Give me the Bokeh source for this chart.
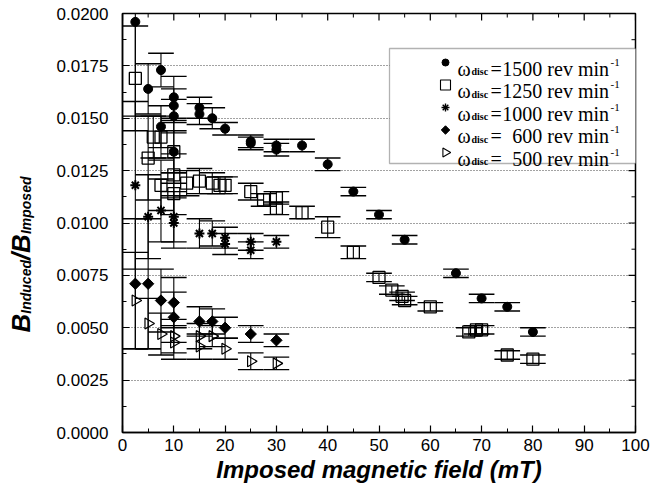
import numpy as np
from bokeh.plotting import figure
from bokeh.layouts import row
from bokeh.models import (SingleIntervalTicker, NumeralTickFormatter,
                          Label, BoxAnnotation, ColumnDataSource, Title)
from bokeh.embed import file_html
from bokeh.resources import INLINE

# ---------------- data ----------------
x_1500 = [2.5, 5, 7.5, 7.5, 10, 10, 10, 10, 15, 15, 17.5, 20, 25, 25, 30, 30, 35, 40, 45, 50, 55, 65, 70, 75, 80]
y_1500 = [0.0196, 0.0164, 0.0173, 0.0146, 0.0160, 0.0156, 0.0151, 0.0134, 0.0155, 0.0152, 0.0150, 0.0145,
          0.0139, 0.0138, 0.0137, 0.0135, 0.0137, 0.0128, 0.0115, 0.0104, 0.0092, 0.0076, 0.0064, 0.0060, 0.0048]
e_1500 = [0.0045, 0.0012, 0.0008, 0.0010, 0.0010, 0.0008, 0.0008, 0.0015, 0.0005, 0.0005, 0.0005, 0.0003,
          0.0003, 0.0003, 0.0003, 0.0003, 0.0003, 0.0003, 0.0002, 0.0002, 0.0002, 0.0002, 0.0002, 0.0002, 0.0002]

x_1250 = [2.5, 5, 6, 7.5, 7.5, 10, 10, 10, 12.5, 15, 17.5, 19, 20, 25, 27.5, 30, 30, 35, 40, 45,
          50, 52.5, 54.5, 55, 60, 67.5, 69, 70, 75, 80]
y_1250 = [0.0169, 0.0131, 0.0141, 0.0141, 0.0118, 0.0134, 0.0123, 0.0114, 0.0119, 0.0120, 0.0119, 0.0118,
          0.0118, 0.0115, 0.0111, 0.0112, 0.0107, 0.0105, 0.0098, 0.0086,
          0.0074, 0.0068, 0.0065, 0.0063, 0.0060, 0.0048, 0.0049, 0.0049, 0.0037, 0.0035]
e_1250 = [0.0025, 0.0020, 0.0010, 0.0010, 0.0012, 0.0010, 0.0010, 0.0010, 0.0006, 0.0006, 0.0005, 0.0004,
          0.0004, 0.0004, 0.0003, 0.0003, 0.0003, 0.0003, 0.0005, 0.0003,
          0.0002, 0.0002, 0.0002, 0.0002, 0.0002, 0.0002, 0.0002, 0.0002, 0.0002, 0.0002]

x_1000 = [2.5, 5, 7.5, 10, 10, 15, 17.5, 20, 20, 25, 25, 30]
y_1000 = [0.0118, 0.0103, 0.0106, 0.0103, 0.0100, 0.0095, 0.0095, 0.0093, 0.0090, 0.0091, 0.0087, 0.0091]
e_1000 = [0.0040, 0.0020, 0.0015, 0.0012, 0.0012, 0.0007, 0.0006, 0.0005, 0.0005, 0.0004, 0.0004, 0.0003]

x_600 = [2.5, 5, 7.5, 10, 10, 15, 17.5, 20, 25, 30]
y_600 = [0.0071, 0.0071, 0.0063, 0.0062, 0.0055, 0.0053, 0.0053, 0.0050, 0.0047, 0.0044]
e_600 = [0.0031, 0.0031, 0.0015, 0.0012, 0.0012, 0.0007, 0.0006, 0.0005, 0.0004, 0.0003]

x_500 = [2.5, 5, 7.5, 10, 10, 15, 15, 17.5, 20, 25, 30]
y_500 = [0.0063, 0.0052, 0.0047, 0.0046, 0.0043, 0.0046, 0.0041, 0.0046, 0.0040, 0.0034, 0.0033]
e_500 = [0.0023, 0.0012, 0.0010, 0.0008, 0.0008, 0.0006, 0.0006, 0.0005, 0.0005, 0.0004, 0.0003]

speeds = ["1500", "1250", "1000", "600", "500"]
x_ticks_interval = 10
y_ticks_interval = 0.0025
x_title = "Imposed magnetic field (mT)"

# ---------------- layout helpers ----------------
W, H = 650, 489
YLAB_W = 44                      # width of the narrow strip holding the y title
FL, FR, FT, FB = 122, 635, 13, 432   # frame edges in page pixels
XMAX, YMAX = 100.0, 0.02


def dx(px):
    return (px - FL) / (FR - FL) * XMAX


def dy(py):
    return (FB - py) / (FB - FT) * YMAX


p = figure(width=W - YLAB_W, height=H, x_range=(0, XMAX), y_range=(0, YMAX),
           output_backend="svg", toolbar_location=None,
           min_border_left=FL - YLAB_W, min_border_right=W - FR,
           min_border_top=FT, min_border_bottom=H - FB)
p.outline_line_color = "black"
p.outline_line_width = 1.5
p.background_fill_color = "white"
p.border_fill_color = "white"

TICK_FONT = "Liberation Sans"

for ax in (p.xaxis[0], p.yaxis[0]):
    ax.axis_line_width = 1.5
    ax.major_tick_in = 7
    ax.major_tick_out = 0
    ax.minor_tick_in = 4
    ax.minor_tick_out = 0
    ax.major_tick_line_width = 1.2
    ax.major_label_text_font = TICK_FONT
    ax.major_label_text_font_size = "17px"
    ax.major_label_text_color = "black"

p.xaxis[0].ticker = SingleIntervalTicker(interval=x_ticks_interval, num_minor_ticks=2)
p.yaxis[0].ticker = SingleIntervalTicker(interval=y_ticks_interval, num_minor_ticks=2)
p.yaxis[0].formatter = NumeralTickFormatter(format="0.0000")
p.xaxis[0].major_label_standoff = 6
p.yaxis[0].major_label_standoff = 14

p.add_layout(Title(text=x_title, align="center", text_font="Liberation Sans",
                   text_font_style="bold italic", text_font_size="24px", text_color="black",
                   standoff=0, offset=0), "below")

p.xgrid.grid_line_color = None
p.ygrid.grid_line_color = "#444444"
p.ygrid.grid_line_dash = "1 2"
p.ygrid.grid_line_width = 1
p.ygrid.ticker = SingleIntervalTicker(interval=y_ticks_interval)

# mirrored inward ticks on top and right edges (half of each dash is clipped by the frame)
top_major = np.arange(0, XMAX + 0.1, x_ticks_interval)
top_minor = np.arange(x_ticks_interval / 2, XMAX, x_ticks_interval)
right_major = np.arange(0, YMAX + 1e-9, y_ticks_interval)
right_minor = np.arange(y_ticks_interval / 2, YMAX, y_ticks_interval)
p.scatter(x=top_major, y=[YMAX] * len(top_major), marker="dash", angle=np.pi / 2, size=14,
          line_color="black", line_width=1.2)
p.scatter(x=top_minor, y=[YMAX] * len(top_minor), marker="dash", angle=np.pi / 2, size=8,
          line_color="black", line_width=1.0)
p.scatter(x=[XMAX] * len(right_major), y=right_major, marker="dash", size=14,
          line_color="black", line_width=1.2)
p.scatter(x=[XMAX] * len(right_minor), y=right_minor, marker="dash", size=8,
          line_color="black", line_width=1.0)

CAP = 2.5  # half-width of error-bar caps in mT


def err_source(xs, ys, es):
    xs = np.asarray(xs, float)
    ys = np.asarray(ys, float)
    es = np.asarray(es, float)
    return ColumnDataSource(dict(x=xs, y=ys, lo=ys - es, hi=ys + es,
                                 cl=xs - CAP, cr=xs + CAP))


series = [
    (x_1500, y_1500, e_1500, dict(marker="circle", size=9, fill_color="black", line_color="black")),
    (x_1250, y_1250, e_1250, dict(marker="square", size=12, fill_color=None, line_color="black", line_width=1.3)),
    (x_1000, y_1000, e_1000, dict(marker="asterisk", size=10, line_color="black", line_width=2)),
    (x_600, y_600, e_600, dict(marker="square", size=8, angle=np.pi / 4, fill_color="black", line_color="black")),
    (x_500, y_500, e_500, dict(marker="triangle", size=11, angle=-np.pi / 2, fill_color=None,
                               line_color="black", line_width=1.2)),
]

for xs, ys, es, style in series:
    src = err_source(xs, ys, es)
    p.segment(x0="x", y0="lo", x1="x", y1="hi", source=src, line_color="black", line_width=1.1)
    p.segment(x0="cl", y0="hi", x1="cr", y1="hi", source=src, line_color="black", line_width=1.4)
    p.segment(x0="cl", y0="lo", x1="cr", y1="lo", source=src, line_color="black", line_width=1.4)

for xs, ys, es, style in series:
    p.scatter(x=xs, y=ys, **style)

# ---------------- legend (drawn by hand for sub/superscripts) ----------------
legend_box = BoxAnnotation(left=dx(389), right=dx(638), top=dy(48), bottom=dy(163),
                           fill_color="white", fill_alpha=1.0, line_color="black", line_width=1.3)
p.add_layout(legend_box)

legend_marker_styles = [
    dict(marker="circle", size=7, fill_color="black", line_color="black"),
    dict(marker="square", size=10, fill_color=None, line_color="black", line_width=1.1),
    dict(marker="asterisk", size=8, line_color="black", line_width=1.4),
    dict(marker="square", size=6, angle=np.pi / 4, fill_color="black", line_color="black"),
    dict(marker="triangle", size=9, angle=-np.pi / 2, fill_color=None, line_color="black", line_width=1.1),
]

SERIF = "Liberation Serif"
for i, (spd, mst) in enumerate(zip(speeds, legend_marker_styles)):
    base = 68 + 22.5 * i
    center = base - 6
    p.scatter(x=[dx(445)], y=[dy(center)], level="overlay", **mst)
    p.add_layout(Label(x=dx(457), y=dy(base), text="ω", text_font=SERIF, text_font_size="20px",
                       text_align="left", text_baseline="alphabetic", text_color="black"))
    p.add_layout(Label(x=dx(471), y=dy(base + 3), text="disc", text_font=SERIF, text_font_size="10px",
                       text_font_style="bold", text_align="left", text_baseline="alphabetic",
                       text_color="black"))
    p.add_layout(Label(x=dx(490), y=dy(base), text="=", text_font=SERIF, text_font_size="20px",
                       text_align="left", text_baseline="alphabetic", text_color="black"))
    p.add_layout(Label(x=dx(608.5), y=dy(base), text=f"{spd} rev min", text_font=SERIF,
                       text_font_size="20px", text_align="right", text_baseline="alphabetic",
                       text_color="black"))
    p.add_layout(Label(x=dx(610), y=dy(base - 6.5), text="-1", text_font=SERIF, text_font_size="11px",
                       text_align="left", text_baseline="alphabetic", text_color="black"))

# ---------------- y title: a narrow strip figure; its frame is aligned with the main frame,
# so its ranges are set so that data units equal page pixels (y measured from page bottom) ----
yfig = figure(width=YLAB_W, height=H, x_range=(0, YLAB_W), y_range=(H - FB, H - FT),
              output_backend="svg", toolbar_location=None,
              x_axis_location=None, y_axis_location=None,
              min_border_left=0, min_border_right=0,
              min_border_top=FT, min_border_bottom=H - FB)
yfig.grid.visible = False
yfig.outline_line_color = None
yfig.background_fill_color = "white"
yfig.border_fill_color = "white"

ylab_parts = [
    ("B", 332, 20, "26px"),
    ("Induced", 313.2, 25, "14px"),
    ("/", 259.6, 20, "26px"),
    ("B", 252.4, 20, "26px"),
    ("Imposed", 233.6, 25, "14px"),
]
for txt, py0, pxb, fs in ylab_parts:
    yfig.add_layout(Label(x=pxb, y=H - py0, text=txt, angle=np.pi / 2,
                          text_font="Liberation Sans", text_font_style="bold italic", text_font_size=fs,
                          text_align="left", text_baseline="alphabetic", text_color="black"))

layout = row(yfig, p, spacing=0)
open("out.html", "w").write(file_html(layout, INLINE))
